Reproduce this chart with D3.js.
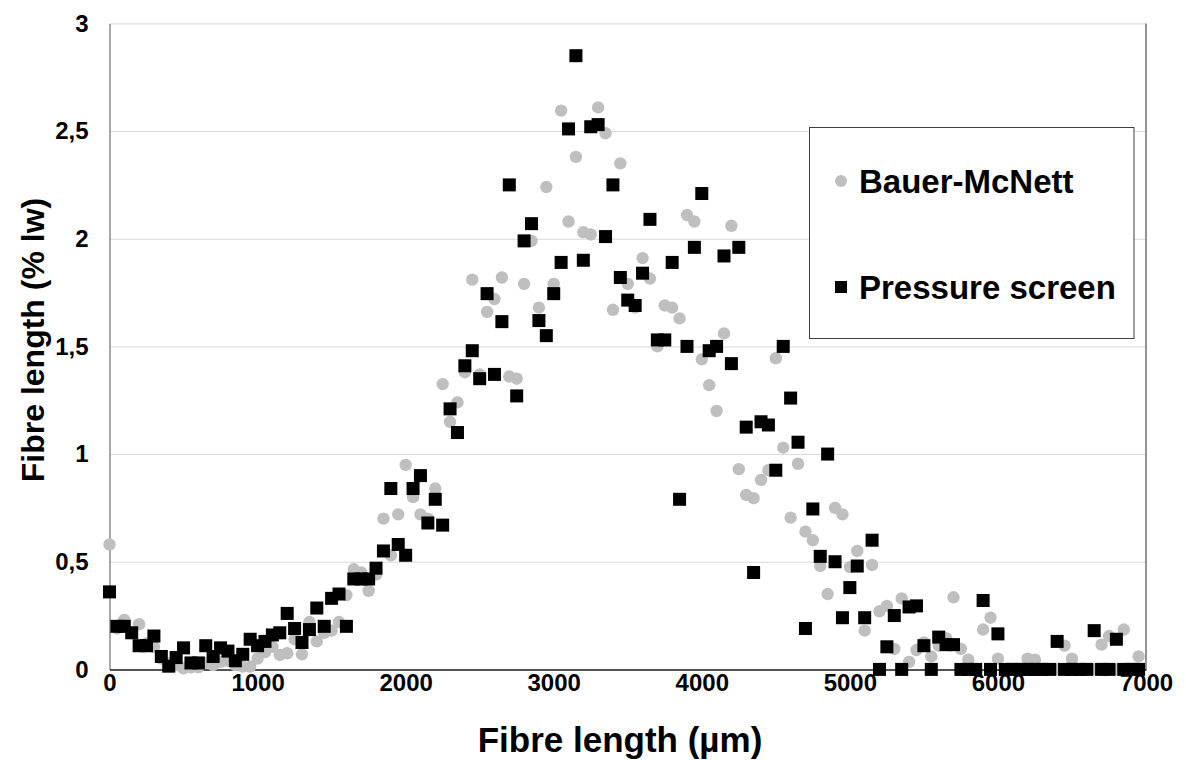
<!DOCTYPE html>
<html>
<head>
<meta charset="utf-8">
<script src="https://cdn.jsdelivr.net/npm/d3@7"></script>
<style>
  body { margin: 0; background: #fff; }
  text { font-family: "Liberation Sans", Arial, sans-serif; font-weight: bold; }
</style>
</head>
<body>
<svg id="chart" width="1186" height="760"></svg>
<script>
// fibre length classes (µm)
const fibreLength = [
  0, 50, 100, 150, 200, 250, 300, 350, 400, 450, 500, 550, 600, 650, 700, 750, 800, 850, 900, 950,
  1000, 1050, 1100, 1150, 1200, 1250, 1300, 1350, 1400, 1450, 1500, 1550, 1600, 1650, 1700, 1750, 1800, 1850, 1900, 1950,
  2000, 2050, 2100, 2150, 2200, 2250, 2300, 2350, 2400, 2450, 2500, 2550, 2600, 2650, 2700, 2750, 2800, 2850, 2900, 2950,
  3000, 3050, 3100, 3150, 3200, 3250, 3300, 3350, 3400, 3450, 3500, 3550, 3600, 3650, 3700, 3750, 3800, 3850, 3900, 3950,
  4000, 4050, 4100, 4150, 4200, 4250, 4300, 4350, 4400, 4450, 4500, 4550, 4600, 4650, 4700, 4750, 4800, 4850, 4900, 4950,
  5000, 5050, 5100, 5150, 5200, 5250, 5300, 5350, 5400, 5450, 5500, 5550, 5600, 5650, 5700, 5750, 5800, 5850, 5900, 5950,
  6000, 6050, 6100, 6150, 6200, 6250, 6300, 6350, 6400, 6450, 6500, 6550, 6600, 6650, 6700, 6750, 6800, 6850, 6900, 6950
];

const bauerMcNett = [
  0.58, 0.19, 0.23, 0.17, 0.21, 0.12, 0.105, 0.05, 0.03, 0.02, 0.005, 0.01, 0.01, 0.03, 0.02, 0.035, 0.04, 0.02, 0.013, 0.013,
  0.05, 0.08, 0.105, 0.067, 0.075, 0.14, 0.07, 0.22, 0.13, 0.17, 0.18, 0.22, 0.345, 0.465, 0.45, 0.365, 0.44, 0.70, 0.53, 0.72,
  0.95, 0.80, 0.72, 0.70, 0.84, 1.325, 1.15, 1.24, 1.38, 1.81, 1.37, 1.66, 1.72, 1.82, 1.36, 1.35, 1.79, 1.99, 1.68, 2.24,
  1.79, 2.595, 2.08, 2.38, 2.03, 2.02, 2.61, 2.49, 1.67, 2.35, 1.79, 1.68, 1.91, 1.815, 1.50, 1.69, 1.68, 1.63, 2.11, 2.08,
  1.44, 1.32, 1.20, 1.56, 2.06, 0.93, 0.81, 0.795, 0.88, 0.925, 1.445, 1.03, 0.705, 0.955, 0.64, 0.60, 0.48, 0.35, 0.75, 0.72,
  0.475, 0.55, 0.18, 0.485, 0.27, 0.295, 0.095, 0.33, 0.035, 0.09, 0.125, 0.06, 0.11, 0.145, 0.335, 0.095, 0.045, 0, 0.185, 0.24,
  0.05, 0, 0, 0, 0.05, 0.045, 0, 0, 0, 0.11, 0.05, 0, 0, 0, 0.115, 0.155, 0, 0.185, 0, 0.06
];

const pressureScreen = [
  0.36, 0.20, 0.20, 0.17, 0.11, 0.11, 0.155, 0.06, 0.015, 0.055, 0.10, 0.03, 0.03, 0.11, 0.06, 0.10, 0.085, 0.04, 0.07, 0.14,
  0.11, 0.13, 0.16, 0.17, 0.26, 0.19, 0.125, 0.185, 0.285, 0.20, 0.33, 0.35, 0.20, 0.42, 0.42, 0.42, 0.47, 0.55, 0.84, 0.58,
  0.53, 0.84, 0.90, 0.68, 0.79, 0.67, 1.21, 1.10, 1.41, 1.48, 1.35, 1.745, 1.37, 1.615, 2.25, 1.27, 1.99, 2.07, 1.62, 1.55,
  1.745, 1.89, 2.51, 2.85, 1.90, 2.52, 2.53, 2.01, 2.25, 1.82, 1.715, 1.69, 1.84, 2.09, 1.53, 1.53, 1.89, 0.79, 1.50, 1.96,
  2.21, 1.48, 1.50, 1.92, 1.42, 1.96, 1.125, 0.45, 1.15, 1.135, 0.925, 1.50, 1.26, 1.055, 0.19, 0.745, 0.525, 1.00, 0.50, 0.24,
  0.38, 0.48, 0.24, 0.60, 0, 0.105, 0.25, 0, 0.29, 0.295, 0.11, 0, 0.15, 0.115, 0.115, 0, 0, 0, 0.32, 0,
  0.165, 0, 0, 0, 0, 0, 0, 0, 0.13, 0, 0, 0, 0, 0.18, 0, 0, 0.14, 0, 0, 0
];

const xTicks = [0, 1000, 2000, 3000, 4000, 5000, 6000, 7000];
const yTicks = [0, 0.5, 1, 1.5, 2, 2.5, 3];
const seriesNames = ["Bauer-McNett", "Pressure screen"];

const svg = d3.select("#chart");
const plot = { left: 109.5, right: 1146, top: 23.4, bottom: 669.4 };

const x = d3.scaleLinear().domain([0, 7000]).range([plot.left, plot.right]);
const y = d3.scaleLinear().domain([0, 3]).range([plot.bottom, plot.top]);

const comma = d3.formatLocale({ decimal: ",", thousands: ".", grouping: [3], currency: ["", ""] });
const fmtY = comma.format(".1~f");

// gridlines
svg.append("g")
  .attr("transform", `translate(${plot.left},0)`)
  .call(d3.axisLeft(y).tickValues(yTicks.slice(1)).tickSize(-(plot.right - plot.left)).tickFormat(""))
  .call(g => g.select(".domain").remove())
  .call(g => g.selectAll("line").attr("stroke", "#d9d9d9").attr("stroke-width", 1));

// right frame
svg.append("line")
  .attr("x1", plot.right).attr("x2", plot.right)
  .attr("y1", plot.top).attr("y2", plot.bottom)
  .attr("stroke", "#595959").attr("stroke-width", 1.3);

// y axis
svg.append("g")
  .attr("transform", `translate(${plot.left},0)`)
  .call(d3.axisLeft(y).tickValues(yTicks).tickSize(0).tickPadding(21).tickFormat(fmtY))
  .call(g => g.select(".domain").attr("stroke", "#8c8c8c").attr("stroke-width", 1.5))
  .call(g => g.selectAll("text").attr("font-size", 24).attr("fill", "#000")
    .attr("font-family", "Liberation Sans, Arial, sans-serif").attr("font-weight", "bold"));

// x axis
svg.append("g")
  .attr("transform", `translate(0,${plot.bottom})`)
  .call(d3.axisBottom(x).tickValues(xTicks).tickSize(0).tickPadding(5).tickFormat(d3.format("d")))
  .call(g => g.select(".domain").attr("stroke", "#1a1a1a").attr("stroke-width", 1.5))
  .call(g => g.selectAll("text").attr("font-size", 24).attr("fill", "#000")
    .attr("font-family", "Liberation Sans, Arial, sans-serif").attr("font-weight", "bold"));

const bauerData = fibreLength.map((d, i) => ({ x: d, v: bauerMcNett[i] }));
const pressData = fibreLength.map((d, i) => ({ x: d, v: pressureScreen[i] }));

svg.append("g")
  .selectAll("circle")
  .data(bauerData)
  .join("circle")
  .attr("cx", d => x(d.x))
  .attr("cy", d => y(d.v))
  .attr("r", 6.2)
  .attr("fill", "#bfbfbf");

const sq = 13;
svg.append("g")
  .selectAll("rect")
  .data(pressData)
  .join("rect")
  .attr("x", d => x(d.x) - sq / 2)
  .attr("y", d => y(d.v) - sq / 2)
  .attr("width", sq)
  .attr("height", sq)
  .attr("fill", "#000");

// axis titles
svg.append("text")
  .attr("x", 620)
  .attr("y", 752)
  .attr("text-anchor", "middle")
  .attr("font-size", 35)
  .text("Fibre length (µm)");

svg.append("text")
  .attr("transform", "translate(44,340) rotate(-90)")
  .attr("text-anchor", "middle")
  .attr("font-size", 32)
  .text("Fibre length (% lw)");

// legend
const legend = svg.append("g");
legend.append("rect")
  .attr("x", 809.5).attr("y", 127.5)
  .attr("width", 324.5).attr("height", 211)
  .attr("fill", "#fff").attr("stroke", "#404040").attr("stroke-width", 1);

const items = legend.selectAll("g.item")
  .data(seriesNames)
  .join("g")
  .attr("class", "item")
  .attr("transform", (d, i) => `translate(841,${181 + i * 106})`);

items.filter((d, i) => i === 0).append("circle").attr("r", 6).attr("fill", "#bfbfbf");
items.filter((d, i) => i === 1).append("rect")
  .attr("x", -6).attr("y", -6).attr("width", 12).attr("height", 12).attr("fill", "#000");
items.append("text")
  .attr("x", 18)
  .attr("dy", "0.36em")
  .attr("font-size", 33)
  .attr("fill", "#000")
  .text(d => d);
</script>
</body>
</html>
